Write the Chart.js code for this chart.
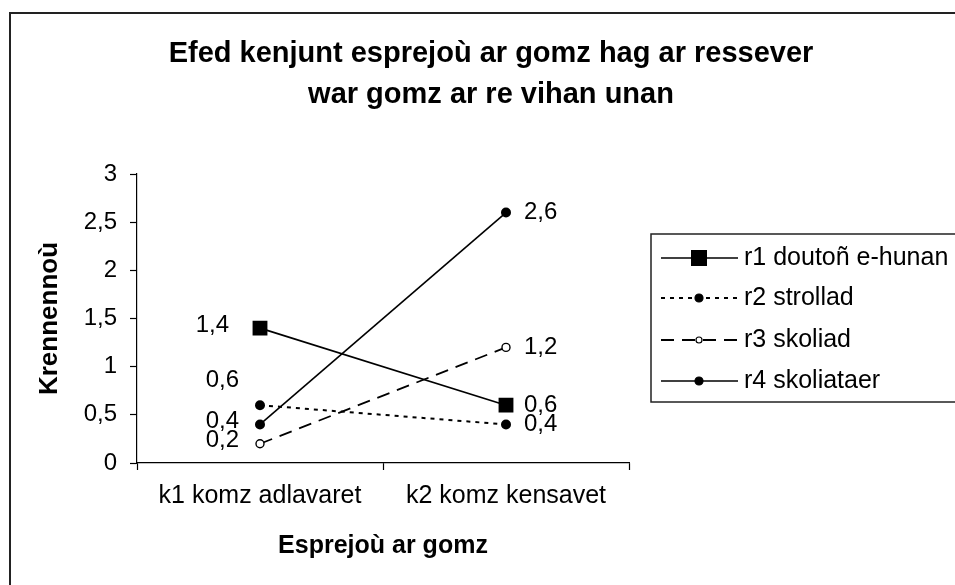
<!DOCTYPE html>
<html>
<head>
<meta charset="utf-8">
<title>Efed kenjunt esprejoù ar gomz</title>
<script src="https://cdn.jsdelivr.net/npm/chart.js@4/dist/chart.umd.min.js"></script>
<style>
  html, body { margin: 0; padding: 0; background: #fff; overflow: hidden; }
  canvas { display: block; }
</style>
</head>
<body>
<canvas id="chart" width="955" height="585"></canvas>
<script>
// Chart values
const categories = ['k1 komz adlavaret', 'k2 komz kensavet'];
const seriesNames = ['r1 doutoñ e-hunan', 'r2 strollad', 'r3 skoliad', 'r4 skoliataer'];
const r1Values = [1.4, 0.6];
const r2Values = [0.6, 0.4];
const r3Values = [0.2, 1.2];
const r4Values = [0.4, 2.6];
const yTicks = [0, 0.5, 1, 1.5, 2, 2.5, 3];
const titleLines = ['Efed kenjunt esprejoù ar gomz hag ar ressever', 'war gomz ar re vihan unan'];

const FONT = '"Liberation Sans", Arial, sans-serif';

// numbers are written with a decimal comma
function comma(v) {
    return String(v).replace('.', ',');
}

// outer frame and the two-line title
const framePlugin = {
    id: 'frame',
    beforeDraw(chart) {
        const ctx = chart.ctx;
        ctx.save();
        ctx.fillStyle = '#fff';
        ctx.fillRect(0, 0, chart.width, chart.height);
        ctx.fillStyle = '#222';
        ctx.fillRect(9, 12, chart.width, 2);
        ctx.fillRect(9, 12, 2, chart.height);
        ctx.restore();
    },
    afterDraw(chart) {
        const ctx = chart.ctx;
        ctx.save();
        ctx.fillStyle = '#000';
        ctx.font = 'bold 29px ' + FONT;
        ctx.textAlign = 'center';
        ctx.textBaseline = 'alphabetic';
        ctx.fillText(titleLines[0], 491, 62);
        ctx.fillText(titleLines[1], 491, 103);
        ctx.restore();
    }
};

// value labels next to each point
const valueLabels = {
    id: 'valueLabels',
    afterDatasetsDraw(chart) {
        const ctx = chart.ctx;
        ctx.save();
        ctx.font = '24px ' + FONT;
        ctx.fillStyle = '#000';
        ctx.textBaseline = 'middle';
        chart.data.datasets.forEach((ds, i) => {
            const meta = chart.getDatasetMeta(i);
            meta.data.forEach((pt, j) => {
                const lift = (ds.labelLift && ds.labelLift[j]) || 0;
                const text = comma(ds.data[j]);
                if (j === 0) {
                    const gap = ds.pointStyle === 'rect' ? 31 : 21;
                    ctx.textAlign = 'right';
                    ctx.fillText(text, pt.x - gap, pt.y - 3 - lift);
                } else {
                    ctx.textAlign = 'left';
                    ctx.fillText(text, pt.x + 18, pt.y - lift);
                }
            });
        });
        ctx.restore();
    }
};

// boxed legend on the right, line + marker + name
const boxLegend = {
    id: 'boxLegend',
    afterDraw(chart) {
        const ctx = chart.ctx;
        ctx.save();
        ctx.strokeStyle = '#222';
        ctx.lineWidth = 1.5;
        ctx.strokeRect(651, 234, 340, 168);
        const rows = [258, 298, 340, 381];
        chart.data.datasets.forEach((ds, i) => {
            const y = rows[i];
            ctx.strokeStyle = '#000';
            ctx.lineWidth = ds.borderWidth;
            ctx.setLineDash(ds.borderDash || []);
            ctx.beginPath();
            ctx.moveTo(661, y);
            ctx.lineTo(738, y);
            ctx.stroke();
            ctx.setLineDash([]);
            const r = ds.pointStyle === 'rect' ? 8 : (ds.pointRadius - 1);
            if (ds.pointStyle === 'rect') {
                ctx.fillStyle = '#000';
                ctx.fillRect(699 - r, y - r, 2 * r, 2 * r);
            } else {
                ctx.beginPath();
                ctx.arc(699, y, r, 0, Math.PI * 2);
                ctx.fillStyle = ds.pointBackgroundColor;
                ctx.fill();
                ctx.lineWidth = 1.2;
                ctx.stroke();
            }
            ctx.fillStyle = '#000';
            ctx.font = '25px ' + FONT;
            ctx.textAlign = 'left';
            ctx.textBaseline = 'middle';
            ctx.fillText(seriesNames[i], 744, y);
        });
        ctx.restore();
    }
};

const ctx = document.getElementById('chart').getContext('2d');
new Chart(ctx, {
    type: 'line',
    data: {
        labels: categories,
        datasets: [
            {
                label: seriesNames[0],
                data: r1Values,
                borderColor: '#000',
                borderWidth: 1.6,
                pointStyle: 'rect',
                pointRadius: 10.5,
                pointBackgroundColor: '#000',
                pointBorderColor: '#000',
                pointBorderWidth: 0
            },
            {
                label: seriesNames[1],
                data: r2Values,
                borderColor: '#000',
                borderWidth: 2,
                borderDash: [4, 5],
                pointStyle: 'circle',
                pointRadius: 5,
                pointBackgroundColor: '#000',
                pointBorderColor: '#000',
                pointBorderWidth: 0,
                labelLift: [22, 0]
            },
            {
                label: seriesNames[2],
                data: r3Values,
                borderColor: '#000',
                borderWidth: 1.8,
                borderDash: [13, 8],
                pointStyle: 'circle',
                pointRadius: 4,
                pointBackgroundColor: '#fff',
                pointBorderColor: '#000',
                pointBorderWidth: 1.4
            },
            {
                label: seriesNames[3],
                data: r4Values,
                borderColor: '#000',
                borderWidth: 1.6,
                pointStyle: 'circle',
                pointRadius: 5,
                pointBackgroundColor: '#000',
                pointBorderColor: '#000',
                pointBorderWidth: 0
            }
        ]
    },
    options: {
        responsive: false,
        animation: false,
        layout: { padding: { top: 174, left: 0, right: 326, bottom: 0 } },
        plugins: {
            legend: { display: false },
            title: { display: false },
            tooltip: { enabled: false }
        },
        scales: {
            x: {
                type: 'category',
                offset: true,
                grid: {
                    offset: true,
                    drawOnChartArea: false,
                    color: '#000',
                    tickLength: 7,
                    tickWidth: 1.2
                },
                border: { color: '#000', width: 1.2 },
                ticks: {
                    color: '#000',
                    font: { family: FONT, size: 25 },
                    padding: 11,
                    maxRotation: 0,
                    autoSkip: false
                },
                title: {
                    display: true,
                    text: 'Esprejoù ar gomz',
                    color: '#000',
                    font: { family: FONT, size: 25, weight: 'bold' },
                    padding: { top: 0, bottom: 24 }
                },
                afterFit(s) { s.height = 122; }
            },
            y: {
                min: 0,
                max: 3,
                grid: {
                    drawOnChartArea: false,
                    color: '#000',
                    tickLength: 7,
                    tickWidth: 1.2
                },
                border: { color: '#000', width: 1.2 },
                ticks: {
                    color: '#000',
                    font: { family: FONT, size: 24 },
                    padding: 13,
                    callback: (v) => comma(v)
                },
                afterBuildTicks(s) {
                    s.ticks = yTicks.map(v => ({ value: v }));
                },
                title: {
                    display: true,
                    text: 'Krennennoù',
                    color: '#000',
                    font: { family: FONT, size: 26, weight: 'bold' },
                    padding: { top: 34, bottom: 0 }
                },
                afterFit(s) { s.width = 137; }
            }
        }
    },
    plugins: [framePlugin, valueLabels, boxLegend]
});
</script>
</body>
</html>
